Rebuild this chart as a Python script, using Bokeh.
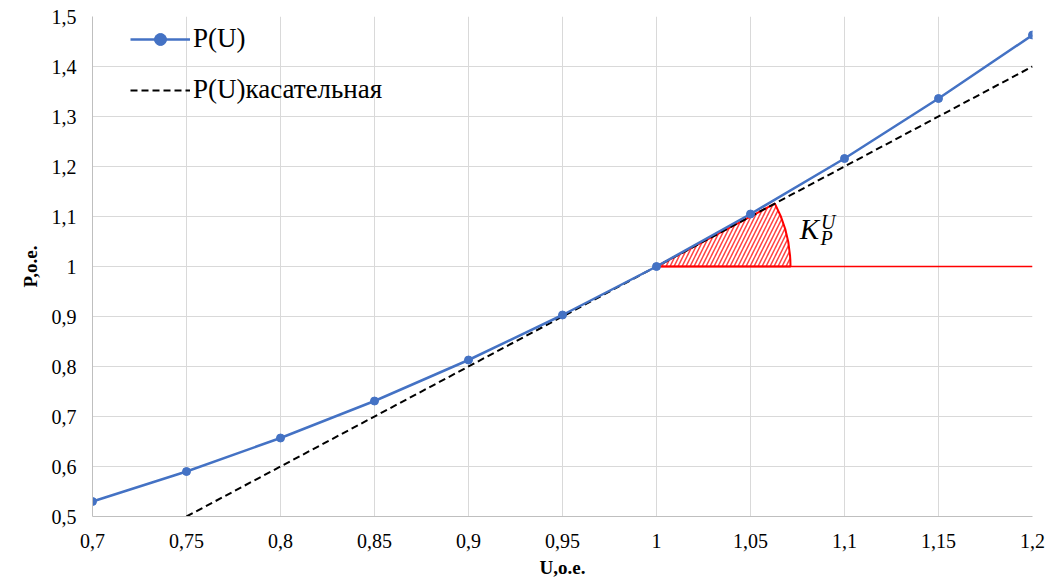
import math
from bokeh.plotting import figure
from bokeh.models import Legend, LegendItem, FixedTicker, Range1d
from bokeh.core.properties import value
from bokeh.embed import file_html
from bokeh.resources import INLINE

# ---- data ----
u_vals = [0.7, 0.75, 0.8, 0.85, 0.9, 0.95, 1.0, 1.05, 1.1, 1.15, 1.2]
p_vals = [0.53, 0.59, 0.657, 0.731, 0.813, 0.903, 1.0, 1.105, 1.216, 1.336, 1.463]
tangent_u = [0.75, 1.2]
tangent_p = [0.5, 1.4]
horiz_u = [1.0, 1.2]
horiz_p = [1.0, 1.0]
x_ticks = [0.7, 0.75, 0.8, 0.85, 0.9, 0.95, 1.0, 1.05, 1.1, 1.15, 1.2]
x_tick_labels = ["0,7", "0,75", "0,8", "0,85", "0,9", "0,95", "1", "1,05", "1,1", "1,15", "1,2"]
y_ticks = [0.5, 0.6, 0.7, 0.8, 0.9, 1.0, 1.1, 1.2, 1.3, 1.4, 1.5]
y_tick_labels = ["0,5", "0,6", "0,7", "0,8", "0,9", "1", "1,1", "1,2", "1,3", "1,4", "1,5"]

FONT = "Liberation Serif"
BLUE = "#4472C4"
FW, FH = 940, 500
X0, X1, Y0, Y1 = 0.7, 1.2, 0.5, 1.5

p = figure(frame_width=FW, frame_height=FH, output_backend="svg", toolbar_location=None,
           x_range=Range1d(X0, X1), y_range=Range1d(Y0, Y1),
           min_border_left=92, min_border_top=16, min_border_right=27, min_border_bottom=61)
p.outline_line_color = None
p.background_fill_color = "white"
p.border_fill_color = "white"

for ax in (p.xaxis[0], p.yaxis[0]):
    ax.major_tick_line_color = None
    ax.minor_tick_line_color = None
    ax.axis_line_color = "#BFBFBF"
    ax.axis_line_width = 1
    ax.major_label_text_font = FONT
    ax.major_label_text_font_size = "20px"
    ax.major_label_text_color = "#000000"
    ax.axis_label_text_font = FONT
    ax.axis_label_text_font_size = "19px"
    ax.axis_label_text_font_style = "bold"
    ax.axis_label_text_color = "#000000"

p.xaxis.ticker = FixedTicker(ticks=x_ticks)
p.xaxis.major_label_overrides = {t: l for t, l in zip(x_ticks, x_tick_labels)}
p.yaxis.ticker = FixedTicker(ticks=y_ticks)
p.yaxis.major_label_overrides = {t: l for t, l in zip(y_ticks, y_tick_labels)}
p.xaxis.axis_label = "U,o.e."
p.yaxis.axis_label = "P,o.e."
p.xaxis.major_label_standoff = 11
p.yaxis.major_label_standoff = 10
p.xaxis.axis_label_standoff = 6
p.yaxis.axis_label_standoff = 8

p.xgrid.grid_line_color = "#D9D9D9"
p.ygrid.grid_line_color = "#D9D9D9"
p.xgrid.grid_line_width = 1
p.ygrid.grid_line_width = 1

# hatched sector (angle of tangent in screen space)
slope = (tangent_p[1] - tangent_p[0]) / (tangent_u[1] - tangent_u[0])
ang = math.atan(slope * (FH / (Y1 - Y0)) / (FW / (X1 - X0)))
p.wedge(x=[horiz_u[0]], y=[horiz_p[0]], radius=134, radius_units="screen",
        start_angle=0, end_angle=ang, fill_color="white", fill_alpha=1.0,
        hatch_pattern="right_diagonal_line", hatch_color="#FF0000", hatch_scale=8,
        hatch_weight=1.5, hatch_alpha=0.75, line_color="#FF0000", line_width=2)

# red horizontal line
p.line(horiz_u, horiz_p, line_color="#FF0000", line_width=1.5)

# tangent
r_tan = p.line(tangent_u, tangent_p, line_color="black", line_width=2, line_dash="7 4")

# P(U)
r_line = p.line(u_vals, p_vals, line_color=BLUE, line_width=2.5)
r_pts = p.scatter(u_vals, p_vals, size=8, fill_color=BLUE, line_color=BLUE)

# K_P^U label
p.text(x=[1.0762], y=[1.075], text=["K"], text_font=value(FONT), text_font_style="italic",
       text_font_size="29px", text_baseline="middle", text_align="left", text_color="black")
p.text(x=[1.0875], y=[1.09], text=["U"], text_font=value(FONT), text_font_style="italic",
       text_font_size="20px", text_baseline="middle", text_align="left", text_color="black")
p.text(x=[1.0872], y=[1.058], text=["P"], text_font=value(FONT), text_font_style="italic",
       text_font_size="20px", text_baseline="middle", text_align="left", text_color="black")

legend = Legend(items=[LegendItem(label="P(U)", renderers=[r_line, r_pts]),
                       LegendItem(label="P(U)касательная", renderers=[r_tan])],
                location=(38, 411), orientation="vertical")
legend.margin = 0
legend.padding = 0
legend.spacing = 20
legend.glyph_width = 60
legend.glyph_height = 30
legend.label_height = 30
legend.label_standoff = 3
legend.label_text_font = FONT
legend.label_text_font_size = "27px"
legend.label_text_color = "#000000"
legend.border_line_color = None
legend.background_fill_alpha = 0
p.add_layout(legend)

open("out.html", "w").write(file_html(p, INLINE))
